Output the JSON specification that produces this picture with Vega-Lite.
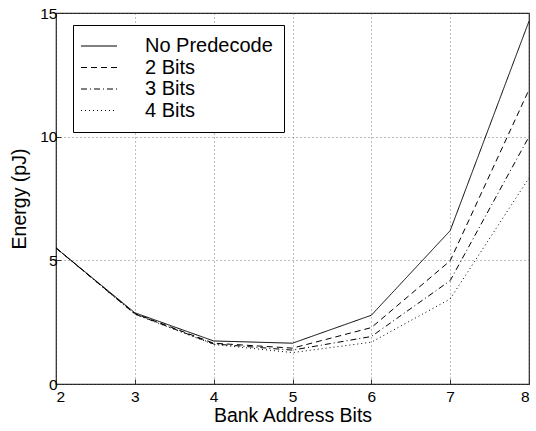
{
  "$schema": "https://vega.github.io/schema/vega-lite/v6.json",
  "width": 473,
  "height": 371,
  "autosize": "none",
  "padding": {"left": 56, "top": 13, "right": 7, "bottom": 47},
  "background": "white",
  "config": {
    "view": {"stroke": "#222", "strokeWidth": 1.2},
    "font": "Liberation Sans",
    "axis": {
      "labelFont": "Liberation Sans",
      "titleFont": "Liberation Sans",
      "labelFontSize": 15.5,
      "titleFontSize": 19.5,
      "titleFontWeight": "normal",
      "labelColor": "black",
      "titleColor": "black",
      "domain": false,
      "tickColor": "#333",
      "tickSize": -5,
      "grid": true,
      "gridColor": "#555",
      "gridDash": [1, 3],
      "gridWidth": 0.8
    }
  },
  "data": {
    "values": [
      {"bits": 2, "series": "No Predecode", "energy": 5.5},
      {"bits": 3, "series": "No Predecode", "energy": 2.88},
      {"bits": 4, "series": "No Predecode", "energy": 1.74},
      {"bits": 5, "series": "No Predecode", "energy": 1.65},
      {"bits": 6, "series": "No Predecode", "energy": 2.78},
      {"bits": 7, "series": "No Predecode", "energy": 6.2},
      {"bits": 8, "series": "No Predecode", "energy": 14.67},
      {"bits": 2, "series": "2 Bits", "energy": 5.5},
      {"bits": 3, "series": "2 Bits", "energy": 2.85},
      {"bits": 4, "series": "2 Bits", "energy": 1.65},
      {"bits": 5, "series": "2 Bits", "energy": 1.45},
      {"bits": 6, "series": "2 Bits", "energy": 2.28},
      {"bits": 7, "series": "2 Bits", "energy": 4.98},
      {"bits": 8, "series": "2 Bits", "energy": 11.9},
      {"bits": 2, "series": "3 Bits", "energy": 5.5},
      {"bits": 3, "series": "3 Bits", "energy": 2.83},
      {"bits": 4, "series": "3 Bits", "energy": 1.62},
      {"bits": 5, "series": "3 Bits", "energy": 1.37},
      {"bits": 6, "series": "3 Bits", "energy": 1.92},
      {"bits": 7, "series": "3 Bits", "energy": 4.18},
      {"bits": 8, "series": "3 Bits", "energy": 10.0},
      {"bits": 2, "series": "4 Bits", "energy": 5.5},
      {"bits": 3, "series": "4 Bits", "energy": 2.82},
      {"bits": 4, "series": "4 Bits", "energy": 1.6},
      {"bits": 5, "series": "4 Bits", "energy": 1.27},
      {"bits": 6, "series": "4 Bits", "energy": 1.69},
      {"bits": 7, "series": "4 Bits", "energy": 3.44},
      {"bits": 8, "series": "4 Bits", "energy": 8.33}
    ]
  },
  "mark": {"type": "line", "color": "black", "strokeWidth": 1},
  "encoding": {
    "x": {
      "field": "bits", "type": "quantitative",
      "scale": {"domain": [2, 8], "nice": false, "zero": false},
      "axis": {"values": [2, 3, 4, 5, 6, 7, 8], "title": "Bank Address Bits", "titlePadding": 2, "labelPadding": 10, "format": "d"}
    },
    "y": {
      "field": "energy", "type": "quantitative",
      "scale": {"domain": [0, 15], "nice": false},
      "axis": {"values": [0, 5, 10, 15], "title": "Energy (pJ)", "titlePadding": 10, "labelPadding": 4}
    },
    "strokeDash": {
      "field": "series", "type": "nominal",
      "scale": {
        "domain": ["No Predecode", "2 Bits", "3 Bits", "4 Bits"],
        "range": [[1, 0], [6, 4], [6, 3, 1, 3], [1, 3]]
      },
      "legend": {
        "title": null,
        "orient": "none",
        "legendX": 17,
        "legendY": 12,
        "symbolType": "M-3.6,0H3.6",
        "symbolSize": 100,
        "symbolOffset": 5,
        "symbolStrokeColor": "black",
        "symbolStrokeWidth": 1,
        "labelFontSize": 20,
        "labelFont": "Liberation Sans",
        "labelColor": "black",
        "labelOffset": 36,
        "strokeColor": "black",
        "fillColor": "white",
        "padding": 11,
        "rowPadding": 1.5
      }
    }
  }
}
